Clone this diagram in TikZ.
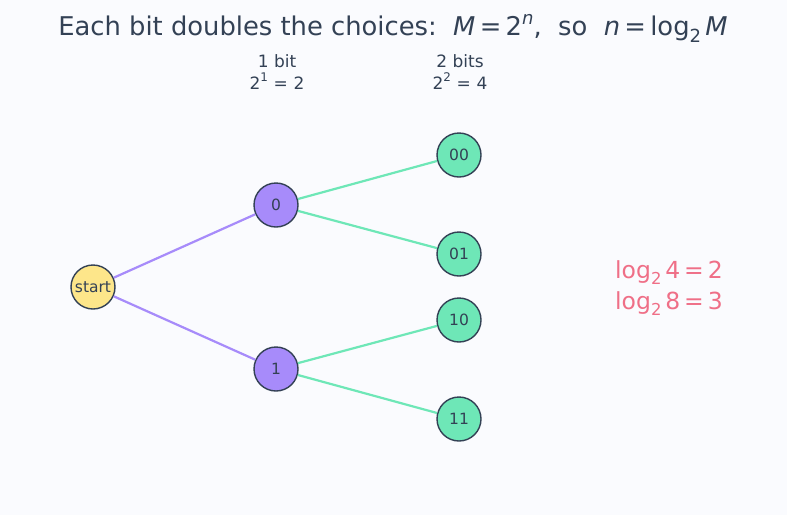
\documentclass[tikz,border=0pt]{standalone}
\usepackage{fontspec}
\setmainfont{DejaVu Sans}
\definecolor{bg}{HTML}{FAFBFE}
\definecolor{ink}{HTML}{334155}
\definecolor{yel}{HTML}{FDE68A}
\definecolor{pur}{HTML}{A78BFA}
\definecolor{grn}{HTML}{6EE7B7}
\definecolor{pnk}{HTML}{EF6F87}
\newcommand{\sups}[1]{\raisebox{0.45em}{\scalebox{0.7}{#1}}}
\newcommand{\subs}[1]{\raisebox{-0.25em}{\scalebox{0.7}{#1}}}
\begin{document}
\begin{tikzpicture}[x=1pt,y=-1pt,
  bnode/.style={circle,draw=ink,line width=1.4pt,minimum size=44pt,inner sep=0pt,text=ink,font=\fontsize{15.5}{18}\selectfont},
  pedge/.style={draw=pur,line width=2.2pt},
  gedge/.style={draw=grn,line width=2.2pt},
  lbl/.style={text=ink,align=center,font=\fontsize{17}{22}\selectfont}]
\fill[bg] (0,0) rectangle (787,515);
\useasboundingbox (0,0) rectangle (787,515);
\node[text=ink,font=\fontsize{25.8}{30}\selectfont] (title) at (393,28) {Each bit doubles the choices:\ \ \textit{M}\,=\,2\sups{\itshape n},\ \ so\ \ \textit{n}\,=\,log\subs{2}\,\textit{M}};
\node[lbl] (l1) at (277,72) {1 bit\\2\sups{1}\,\,=\,\,2};
\node[lbl] (l2) at (460,72) {2 bits\\2\sups{2}\,\,=\,\,4};
\node[bnode,fill=yel] (s) at (93,287) {start};
\node[bnode,fill=pur] (n0) at (276,205) {0};
\node[bnode,fill=pur] (n1) at (276,369) {1};
\node[bnode,fill=grn] (n00) at (459,155) {00};
\node[bnode,fill=grn] (n01) at (459,254) {01};
\node[bnode,fill=grn] (n10) at (459,320) {10};
\node[bnode,fill=grn] (n11) at (459,419) {11};
\path[pedge] (s) -- (n0);
\path[pedge] (s) -- (n1);
\path[gedge] (n0) -- (n00);
\path[gedge] (n0) -- (n01);
\path[gedge] (n1) -- (n10);
\path[gedge] (n1) -- (n11);
\node[text=pnk,align=left,font=\fontsize{23.5}{31}\selectfont] (logs) at (669,288) {log\subs{2}\,4\,=\,2\\log\subs{2}\,8\,=\,3};
\end{tikzpicture}
\end{document}
